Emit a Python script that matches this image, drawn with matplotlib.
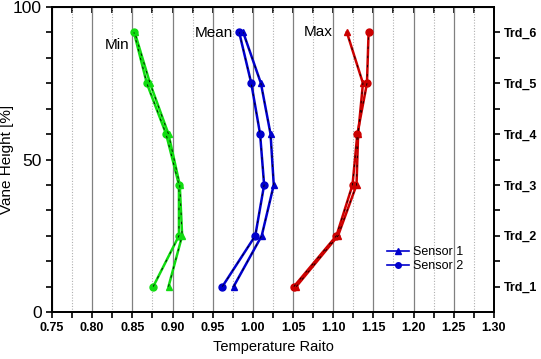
import matplotlib
matplotlib.use("Agg")
import matplotlib.pyplot as plt
from matplotlib.ticker import MultipleLocator, FixedLocator

plt.rcParams["font.family"] = ["Liberation Sans", "DejaVu Sans"]

heights = [100 / 12, 300 / 12, 500 / 12, 700 / 12, 900 / 12, 1100 / 12]
trd_labels = ["Trd_1", "Trd_2", "Trd_3", "Trd_4", "Trd_5", "Trd_6"]

min_s1 = [0.895, 0.912, 0.909, 0.895, 0.872, 0.853]
min_s2 = [0.876, 0.908, 0.908, 0.892, 0.868, 0.852]
mean_s1 = [0.976, 1.011, 1.026, 1.022, 1.010, 0.988]
mean_s2 = [0.962, 1.003, 1.014, 1.009, 0.998, 0.983]
max_s1 = [1.054, 1.106, 1.129, 1.131, 1.137, 1.117]
max_s2 = [1.051, 1.104, 1.124, 1.130, 1.142, 1.144]

groups = [
    ("Min", "#10dc10", min_s1, min_s2, (0.831, 87.5)),
    ("Mean", "#0000cc", mean_s1, mean_s2, (0.951, 91.5)),
    ("Max", "#cc0000", max_s1, max_s2, (1.081, 91.8)),
]

fig = plt.figure(figsize=(5.41, 3.59), dpi=100)
ax = fig.add_axes([0.0961, 0.1309, 0.8169, 0.8496])

for name, color, s1, s2, pos in groups:
    for vals, marker in ((s1, "^"), (s2, "o")):
        ax.plot(vals, heights, color=color, lw=1.8, marker=marker, ms=5,
                mec=color, mfc=color, zorder=3)
        ax.plot(vals, heights, color="black", lw=0.6, ls=(0, (3, 8)), zorder=4)
    ax.text(pos[0], pos[1], name, fontsize=11, ha="center", va="center")

ax.set_xlim(0.75, 1.30)
ax.set_ylim(0, 100)
ax.xaxis.set_major_locator(MultipleLocator(0.05))
ax.xaxis.set_minor_locator(MultipleLocator(0.025))
ax.set_xticklabels([f"{v:.2f}" for v in ax.get_xticks()], fontweight="bold", fontsize=9)
ax.grid(which="major", axis="x", color="#808080", lw=0.9)
ax.grid(which="minor", axis="x", color="#b0b0b0", lw=0.8, ls=(0, (1, 1.5)))
ax.set_axisbelow(True)

ax.yaxis.set_major_locator(FixedLocator([0, 50, 100]))
ax.yaxis.set_minor_locator(MultipleLocator(100 / 12))
ax.tick_params(axis="y", which="both", direction="out", length=4, width=1.2, labelsize=12.5)
ax.tick_params(axis="x", which="both", direction="out", length=4, width=1.2)

top = ax.secondary_xaxis("top")
top.xaxis.set_major_locator(MultipleLocator(0.05))
top.xaxis.set_minor_locator(MultipleLocator(0.025))
top.tick_params(which="both", direction="in", length=4, width=1.2, labeltop=False)

right = ax.twinx()
right.set_ylim(0, 100)
right.yaxis.set_major_locator(FixedLocator(heights))
right.yaxis.set_minor_locator(FixedLocator([200 / 12 * k for k in range(1, 6)]))
right.set_yticklabels(trd_labels, fontweight="bold", fontsize=9)
right.tick_params(which="both", direction="out", length=4, width=1.2)

for a in (ax, right):
    for s in a.spines.values():
        s.set_linewidth(1.3)

ax.set_xlabel("Temperature Raito", fontsize=10.5)
ax.set_ylabel("Vane Height [%]", fontsize=11)
ax.yaxis.set_label_coords(-0.085, 0.5)

h1, = ax.plot([], [], color="#0000cc", marker="^", ms=5, lw=1.2)
h2, = ax.plot([], [], color="#0000cc", marker="o", ms=4, lw=1.2)
ax.legend([h1, h2], ["Sensor 1", "Sensor 2"], loc="lower left",
          bbox_to_anchor=(0.74, 0.105), frameon=False, fontsize=9,
          handlelength=1.8, handletextpad=0.3, labelspacing=0.2,
          borderpad=0.1)

fig.savefig("out.png")
